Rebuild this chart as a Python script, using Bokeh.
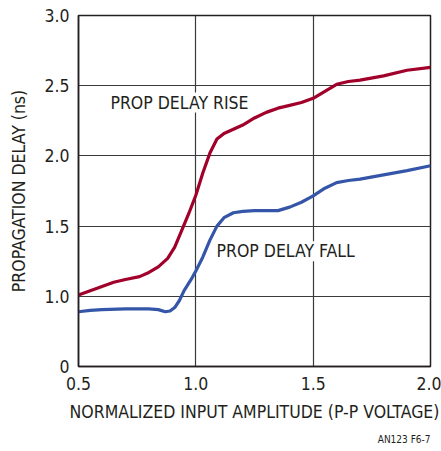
from bokeh.plotting import figure
from bokeh.models import Label, FixedTicker, Range1d, Title
from bokeh.embed import file_html
from bokeh.resources import INLINE

rise_x = [0.50, 0.55, 0.60, 0.65, 0.70, 0.76, 0.80, 0.84, 0.88, 0.91, 0.94, 0.97, 1.00, 1.03, 1.06, 1.09,
          1.12, 1.16, 1.20, 1.25, 1.30, 1.35, 1.40, 1.45, 1.50, 1.55, 1.60, 1.65, 1.70, 1.80, 1.90, 2.00]
rise_y = [1.01, 1.04, 1.07, 1.10, 1.12, 1.14, 1.17, 1.21, 1.27, 1.35, 1.47, 1.59, 1.72, 1.88, 2.02, 2.12,
          2.16, 2.19, 2.22, 2.27, 2.31, 2.34, 2.36, 2.38, 2.41, 2.46, 2.51, 2.53, 2.54, 2.57, 2.61, 2.63]

fall_x = [0.50, 0.55, 0.60, 0.70, 0.80, 0.84, 0.87, 0.89, 0.91, 0.93, 0.95, 0.98, 1.00, 1.03, 1.06, 1.09,
          1.12, 1.16, 1.20, 1.25, 1.30, 1.35, 1.40, 1.45, 1.50, 1.55, 1.60, 1.65, 1.70, 1.80, 1.90, 2.00]
fall_y = [0.89, 0.90, 0.905, 0.91, 0.91, 0.905, 0.89, 0.895, 0.92, 0.97, 1.04, 1.12, 1.18, 1.28, 1.40, 1.50,
          1.56, 1.595, 1.605, 1.61, 1.61, 1.61, 1.635, 1.67, 1.715, 1.77, 1.81, 1.825, 1.835, 1.865, 1.895, 1.93]

x_ticks = [0.5, 1.0, 1.5, 2.0]
y_ticks = [0.5, 1.0, 1.5, 2.0, 2.5, 3.0]
y_tick_labels = {0.5: "0", 1.0: "1.0", 1.5: "1.5", 2.0: "2.0", 2.5: "2.5", 3.0: "3.0"}
x_tick_labels = {0.5: "0.5", 1.0: "1.0", 1.5: "1.5", 2.0: "2.0"}

FONT = "'DejaVu Sans Condensed', 'Liberation Sans Narrow', 'Roboto'"
TXT = "#231f20"
FS = "17.5px"

p = figure(width=441, height=451, output_backend="svg", toolbar_location=None,
           x_range=Range1d(0.5, 2.0), y_range=Range1d(0.5, 3.0),
           min_border_left=78, min_border_right=11, min_border_top=15, min_border_bottom=20)

p.outline_line_color = TXT
p.outline_line_width = 1.5
p.background_fill_color = "white"
p.border_fill_color = "white"

for ax in (p.xaxis[0], p.yaxis[0]):
    ax.major_tick_out = 0
    ax.major_tick_in = 0
    ax.minor_tick_out = 0
    ax.minor_tick_in = 0
    ax.axis_line_color = TXT
    ax.axis_line_width = 1.5
    ax.major_label_text_font = FONT
    ax.major_label_text_font_size = FS
    ax.major_label_text_color = TXT
    ax.axis_label_text_font = FONT
    ax.axis_label_text_font_size = FS
    ax.axis_label_text_font_style = "normal"
    ax.axis_label_text_color = TXT

p.xaxis.ticker = FixedTicker(ticks=x_ticks)
p.yaxis.ticker = FixedTicker(ticks=y_ticks)
p.xaxis.major_label_overrides = x_tick_labels
p.yaxis.major_label_overrides = y_tick_labels
p.xaxis.axis_label = "NORMALIZED INPUT AMPLITUDE (P-P VOLTAGE)"
p.yaxis.axis_label = "PROPAGATION DELAY (ns)"
p.xaxis.major_label_standoff = 10
p.yaxis.major_label_standoff = 9
p.xaxis.axis_label_standoff = 9
p.yaxis.axis_label_standoff = 12

p.xgrid.ticker = FixedTicker(ticks=[1.0, 1.5])
p.ygrid.ticker = FixedTicker(ticks=[1.0, 1.5, 2.0, 2.5])
p.grid.grid_line_color = "#3a3a3a"
p.grid.grid_line_width = 1.2

p.line(rise_x, rise_y, line_color="#a0002a", line_width=3.2, line_join="round")
p.line(fall_x, fall_y, line_color="#3556a8", line_width=3.2, line_join="round")

p.add_layout(Label(x=0.636, y=2.38, text="PROP DELAY RISE", text_font=FONT, text_font_size=FS,
                   text_color=TXT, text_baseline="middle", background_fill_color="white"))
p.add_layout(Label(x=1.088, y=1.32, text="PROP DELAY FALL", text_font=FONT, text_font_size=FS,
                   text_color=TXT, text_baseline="middle", background_fill_color="white"))
p.add_layout(Title(text="AN123 F6-7", align="right", text_font=FONT, text_font_size="10px",
                   text_font_style="normal", text_color=TXT, standoff=14), "below")

open("out.html", "w").write(file_html(p, INLINE))
